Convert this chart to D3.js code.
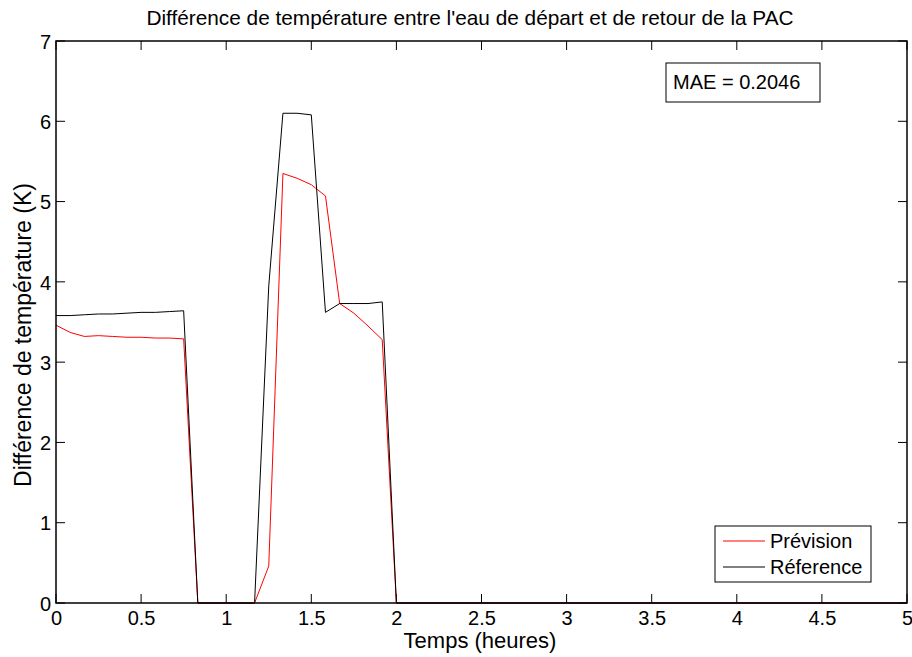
<!DOCTYPE html>
<html><head><meta charset="utf-8">
<script src="https://cdn.jsdelivr.net/npm/d3@7"></script>
<style>body{margin:0;background:#fff}svg{display:block}text{font-family:Arial,"Liberation Sans",sans-serif;fill:#000}</style>
</head><body><svg id="c" width="912" height="657"></svg>
<script>
const times = [0,0.0833,0.1667,0.25,0.3333,0.4167,0.5,0.5833,0.6667,0.75,0.8333,0.9167,1.0,1.0833,1.1667,1.25,1.3333,1.4167,1.5,1.5833,1.6667,1.75,1.8333,1.9167,2.0,5.0];
const prevision = [3.46,3.37,3.32,3.33,3.32,3.31,3.31,3.30,3.30,3.29,0,0,0,0,0,0.46,5.35,5.29,5.21,5.07,3.73,3.61,3.45,3.28,0,0];
const reference = [3.58,3.58,3.59,3.60,3.60,3.61,3.62,3.62,3.63,3.64,0,0,0,0,0,3.95,6.10,6.10,6.08,3.62,3.73,3.73,3.73,3.75,0,0];
const xTicks = [0,0.5,1,1.5,2,2.5,3,3.5,4,4.5,5];
const yTicks = [0,1,2,3,4,5,6,7];
const seriesNames = ["Prévision","Réference"];
const title = "Différence de température entre l'eau de départ et de retour de la PAC";
const xLabel = "Temps (heures)";
const yLabel = "Différence de température (K)";
const maeText = "MAE = 0.2046";

const svg = d3.select("#c");
const L=56, R=907, T=41, B=603;
const x = d3.scaleLinear().domain([0,5]).range([L,R]);
const y = d3.scaleLinear().domain([0,7]).range([B,T]);
const tl = 9;

const ax = svg.append("g");
ax.append("g").attr("transform",`translate(0,${B})`)
  .call(d3.axisBottom(x).tickValues(xTicks).tickSize(0).tickPadding(8).tickFormat(d3.format("")))
  .call(g=>{g.select(".domain").remove(); g.selectAll("text").attr("font-size",20);});
ax.append("g").attr("transform",`translate(${L},0)`)
  .call(d3.axisLeft(y).tickValues(yTicks).tickSize(0).tickPadding(5).tickFormat(d3.format("")))
  .call(g=>{g.select(".domain").remove(); g.selectAll("text").attr("font-size",20).attr("dy","0.36em");});
const tk = svg.append("g").attr("stroke","#000").attr("stroke-width",1);
xTicks.forEach(v=>{
  tk.append("line").attr("x1",x(v)).attr("x2",x(v)).attr("y1",B).attr("y2",B-tl);
  tk.append("line").attr("x1",x(v)).attr("x2",x(v)).attr("y1",T).attr("y2",T+tl);
});
yTicks.forEach(v=>{
  tk.append("line").attr("y1",y(v)).attr("y2",y(v)).attr("x1",L).attr("x2",L+tl);
  tk.append("line").attr("y1",y(v)).attr("y2",y(v)).attr("x1",R).attr("x2",R-tl);
});

const line = d3.line().x((d,i)=>x(times[i])).y(d=>y(d));
svg.append("path").datum(prevision).attr("d",line).attr("fill","none").attr("stroke","#ff0000").attr("stroke-width",1);
svg.append("path").datum(reference).attr("d",line).attr("fill","none").attr("stroke","#000").attr("stroke-width",1);

svg.append("rect").attr("x",L).attr("y",T).attr("width",R-L).attr("height",B-T)
  .attr("fill","none").attr("stroke","#000").attr("stroke-width",1.5);

svg.append("text").attr("x",470).attr("y",25).attr("text-anchor","middle").attr("font-size",20.8).text(title);
svg.append("text").attr("x",480).attr("y",648).attr("text-anchor","middle").attr("font-size",22).text(xLabel);
svg.append("text").attr("transform","translate(31,335) rotate(-90)").attr("text-anchor","middle").attr("font-size",23).text(yLabel);

svg.append("rect").attr("x",666).attr("y",63).attr("width",154).attr("height",39).attr("fill","#fff").attr("stroke","#000").attr("stroke-width",1);
svg.append("text").attr("x",673).attr("y",89).attr("font-size",20).text(maeText);

const lg = svg.append("g");
lg.append("rect").attr("x",715).attr("y",526).attr("width",156).attr("height",56).attr("fill","#fff").attr("stroke","#000").attr("stroke-width",1);
const colors = ["#ff0000","#000"];
seriesNames.forEach((n,i)=>{
  const yy = 541 + i*26;
  lg.append("line").attr("x1",723).attr("x2",765).attr("y1",yy).attr("y2",yy).attr("stroke",colors[i]).attr("stroke-width",1);
  lg.append("text").attr("x",770).attr("y",yy).attr("dy","0.35em").attr("font-size",20).text(n);
});
</script></body></html>
